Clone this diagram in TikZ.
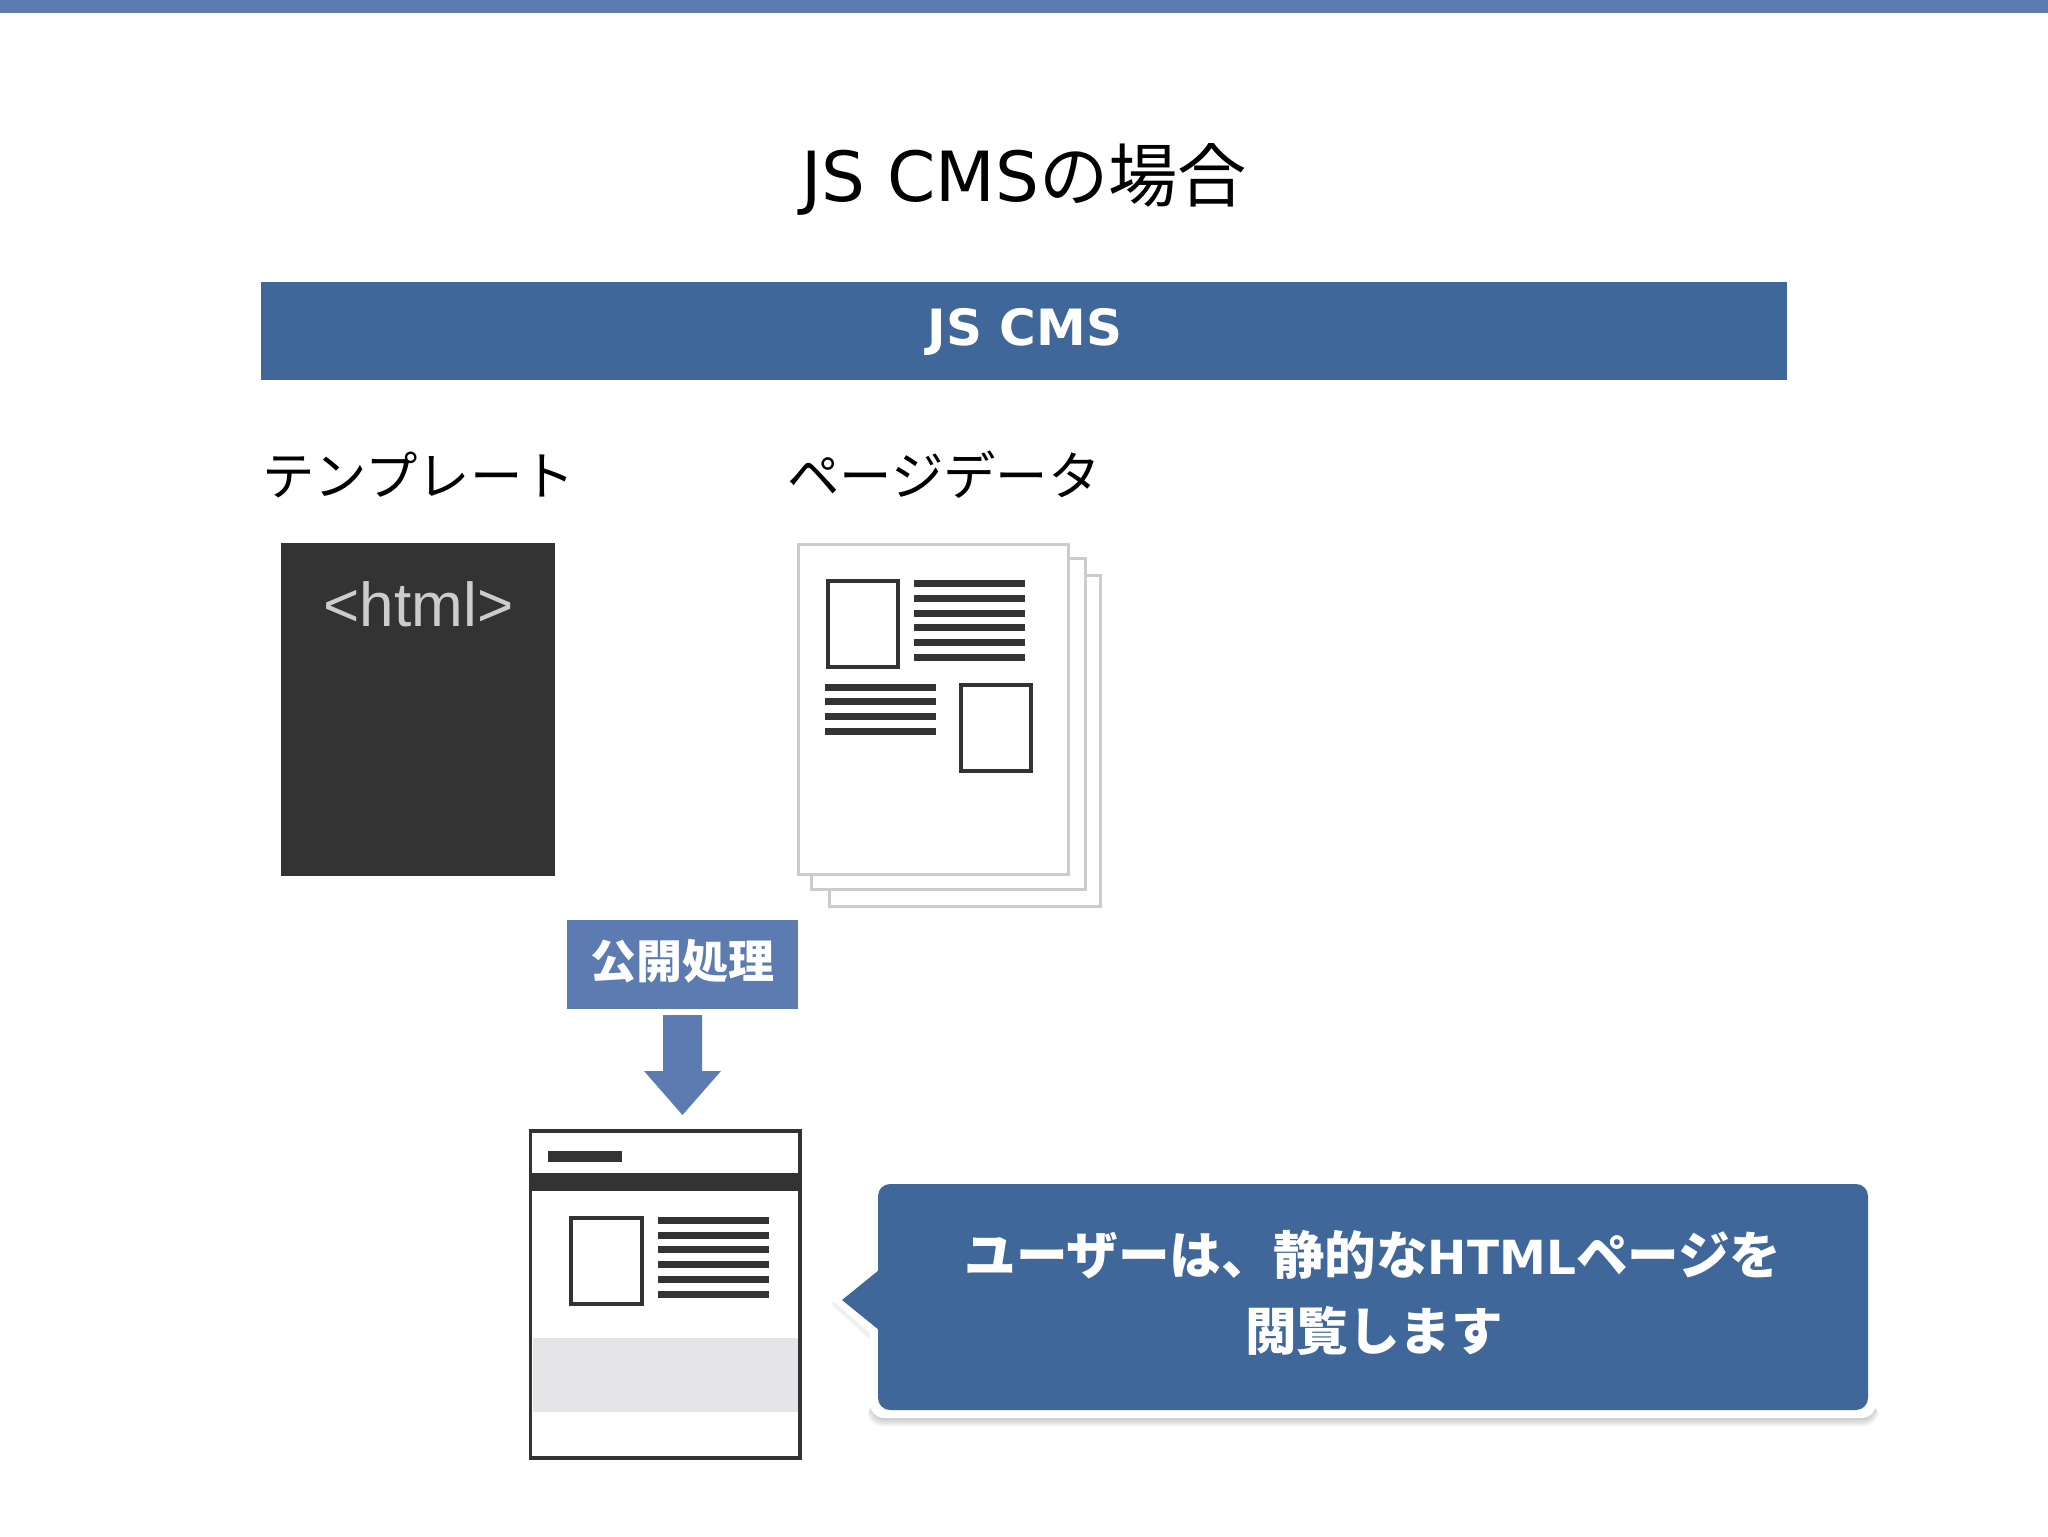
\documentclass[tikz,border=0pt]{standalone}
\usepackage{fontspec}
\setmainfont{DejaVu Sans}
\newfontfamily\jp{Noto Sans CJK JP}
\newfontfamily\latn{DejaVu Sans}
\newfontfamily\htmlfont{Liberation Sans}
\definecolor{barblue}{HTML}{5B7BB1}
\definecolor{deepblue}{HTML}{40679A}
\definecolor{inkdark}{HTML}{333333}
\definecolor{pagegrey}{HTML}{CCCCCC}
\definecolor{bandgrey}{HTML}{E5E5E7}
\tikzset{
  plain/.style={inner sep=0pt,outer sep=0pt},
  block/.style={fill=#1,draw=none},
  sheet/.style={fill=white,draw=pagegrey,line width=1.5pt},
  imgbox/.style={fill=white,draw=inkdark,line width=1.6pt},
  rulebar/.style={fill=inkdark,draw=none},
  headtext/.style={plain,text=white},
  softshadow/.style={fill=black,opacity=.05,rounded corners=7pt},
}
\newcommand{\ruleset}[3]{\foreach \yy in {#3}{\fill[rulebar] (#1,\yy) rectangle (#2,\yy+7);}}
\begin{document}
\begin{tikzpicture}[x=0.5pt,y=-0.5pt]
\useasboundingbox (0,0) rectangle (2048,1536);
\fill[white] (0,0) rectangle (2048,1536);
% top bar
\fill[block=barblue] (0,0) rectangle (2048,13);
% title
\node[plain] (title) at (1024,179) {\fontsize{34.6}{42}\selectfont JS CMS{\jp の場合}};
% banner
\fill[block=deepblue] (261,282) rectangle (1787,380);
\node[headtext] (banner) at (1025,332) {\fontsize{25}{30}\selectfont\bfseries JS CMS};
% column labels
\node[plain,anchor=center] (tpl) at (418.5,475) {\jp\fontsize{26.2}{30}\selectfont テンプレート};
\node[plain,anchor=center] (pgd) at (944,475) {\jp\fontsize{26.2}{30}\selectfont ページデータ};
% template
\fill[block=inkdark] (281,543) rectangle (555,876);
\node[plain,text=pagegrey] (html) at (418.5,604) {\htmlfont\fontsize{31}{36}\selectfont <html>};
% page stack
\draw[sheet] (829,575) rectangle (1100,906);
\draw[sheet] (811,558) rectangle (1085,889);
\draw[sheet] (798,544) rectangle (1068,874);
\draw[imgbox] (828,581) rectangle (898,667);
\ruleset{914}{1025}{580,595,610,624,639,654}
\ruleset{825}{936}{684,698,713,728}
\draw[imgbox] (961,685) rectangle (1031,771);
% process label
\fill[block=barblue] (567,920) rectangle (798,1009);
\node[headtext] (proc) at (682,961) {\jp\fontsize{23}{28}\selectfont\bfseries 公開処理};
% arrow
\fill[block=barblue] (663,1015) -- (702,1015) -- (702,1071) -- (721,1071) -- (682.5,1115) -- (644,1071) -- (663,1071) -- cycle;
% result page
\draw[fill=white,draw=inkdark,line width=1.6pt] (530.5,1131) rectangle (800,1458);
\fill[rulebar] (548,1151) rectangle (622,1162);
\fill[rulebar] (530.5,1173) rectangle (800,1191);
\draw[imgbox] (571,1218) rectangle (642,1304);
\ruleset{658}{769}{1217,1232,1246,1261,1276,1291}
\fill[bandgrey] (533,1338) rectangle (798,1412);
% callout
\foreach \d in {0,2,4,6} {\fill[softshadow] (871-\d/2,1400) rectangle (1875+\d/2,1420+\d);}
\foreach \d in {0,2} {\fill[black,opacity=.03] (832-\d,1304) -- (872,1268) -- (872,1340+\d) -- cycle;}
\fill[white,rounded corners=7pt] (870,1176) rectangle (1876,1418);
\fill[white] (832,1300) -- (872,1265) -- (872,1335) -- cycle;
\fill[block=deepblue,rounded corners=6pt] (878,1184) rectangle (1868,1410);
\fill[block=deepblue] (879,1270) -- (842,1300) -- (879,1330) -- cycle;
\node[headtext] (c1) at (1373,1255) {\jp\fontsize{25.8}{30}\selectfont\bfseries ユーザーは、静的な{\latn\fontsize{23.5}{30}\selectfont\bfseries HTML}ページを};
\node[headtext] (c2) at (1374,1331) {\jp\fontsize{25.8}{30}\selectfont\bfseries 閲覧します};
\end{tikzpicture}
\end{document}
